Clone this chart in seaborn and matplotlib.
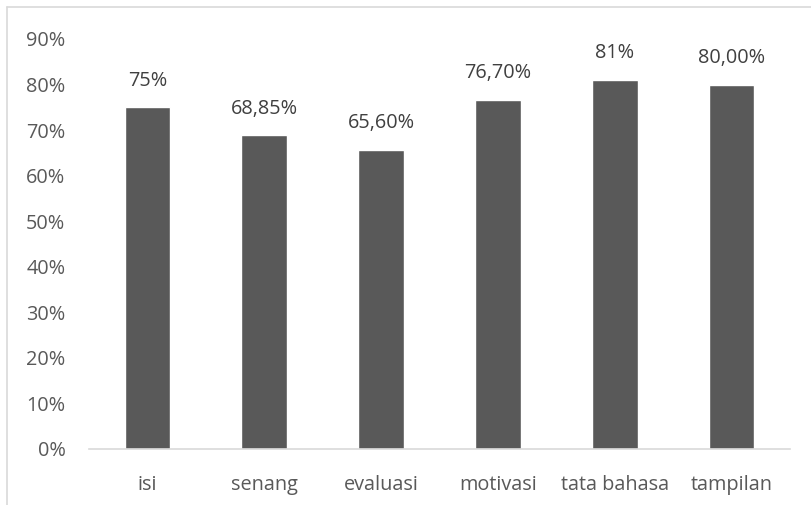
import matplotlib
matplotlib.use("Agg")
import matplotlib.pyplot as plt
import seaborn as sns
import pandas as pd
from matplotlib.lines import Line2D
from matplotlib.ticker import PercentFormatter

categories = ["isi", "senang", "evaluasi", "motivasi", "tata bahasa", "tampilan"]
values = [0.75, 0.6885, 0.656, 0.767, 0.81, 0.80]
labels = ["75%", "68,85%", "65,60%", "76,70%", "81%", "80,00%"]

sns.set_theme(style="white")
plt.rcParams["font.family"] = ["Open Sans", "DejaVu Sans"]

df = pd.DataFrame({"cat": categories, "val": values})

fig = plt.figure(figsize=(8.11, 5.05), dpi=100)
ax = fig.add_axes([89/811, 1-449/505, (790-89)/811, (449-39)/505])
sns.barplot(data=df, x="cat", y="val", color="#595959", saturation=1, width=0.39, ax=ax)

ax.set_ylim(0, 0.9)
ax.set_yticks([i/10 for i in range(10)])
ax.yaxis.set_major_formatter(PercentFormatter(1.0, decimals=0))
ax.set_xlabel("")
ax.set_ylabel("")
for s in ["top", "right", "left"]:
    ax.spines[s].set_visible(False)
ax.spines["bottom"].set_color("#d9d9d9")
ax.spines["bottom"].set_linewidth(1.2)
ax.tick_params(axis="both", length=0, labelsize=14.3, labelcolor="#595959")
ax.tick_params(axis="x", pad=19)
ax.tick_params(axis="y", pad=17)

for container in ax.containers:
    ax.bar_label(container, labels=labels, padding=12, fontsize=14.3, color="#404040")

fig.add_artist(Line2D([7/811, 1], [1-7/505, 1-7/505], color="#d9d9d9", lw=1.2, transform=fig.transFigure))
fig.add_artist(Line2D([7/811, 7/811], [0, 1-7/505], color="#d9d9d9", lw=1.2, transform=fig.transFigure))

fig.savefig("out.png", dpi=100, facecolor="white")
